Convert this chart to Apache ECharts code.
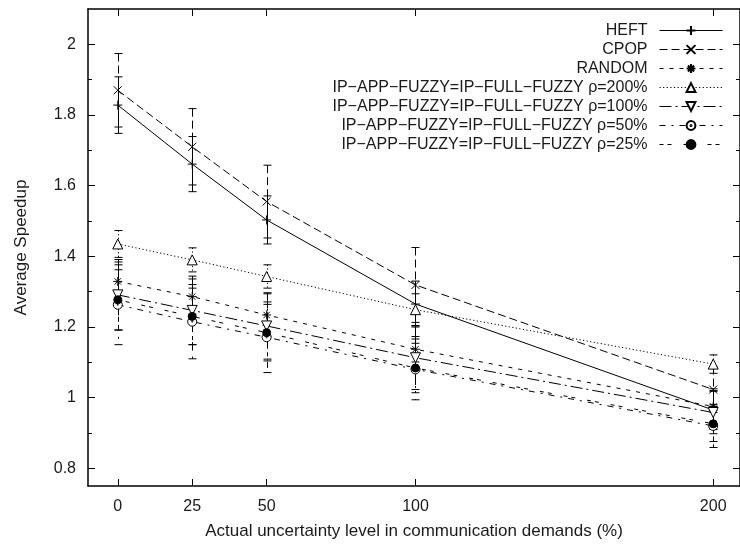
<!DOCTYPE html>
<html>
<head>
<meta charset="utf-8">
<script src="https://cdn.jsdelivr.net/npm/echarts@6/dist/echarts.min.js"></script>
<style>html,body{margin:0;padding:0;background:#fff;}#chart{width:740px;height:547px;}</style>
</head>
<body>
<div id="chart"></div>
<script>
// ---- data ----
const xValues = [0, 25, 50, 100, 200];
const xTickValues = [0, 25, 50, 100, 200];
const yLabelValues = [0.8, 1, 1.2, 1.4, 1.6, 1.8, 2];
const yMinorValues = [0.8, 0.9, 1, 1.1, 1.2, 1.3, 1.4, 1.5, 1.6, 1.7, 1.8, 1.9, 2];

const seriesNames = [
  'HEFT',
  'CPOP',
  'RANDOM',
  'IP\u2212APP\u2212FUZZY=IP\u2212FULL\u2212FUZZY \u03c1=200%',
  'IP\u2212APP\u2212FUZZY=IP\u2212FULL\u2212FUZZY \u03c1=100%',
  'IP\u2212APP\u2212FUZZY=IP\u2212FULL\u2212FUZZY \u03c1=50%',
  'IP\u2212APP\u2212FUZZY=IP\u2212FULL\u2212FUZZY \u03c1=25%'
];

const heft      = [1.828, 1.661, 1.503, 1.265, 0.965];
const heftErr   = [0.080, 0.078, 0.068, 0.065, 0.055];
const cpop      = [1.870, 1.710, 1.555, 1.319, 1.023];
const cpopErr   = [0.104, 0.108, 0.103, 0.106, 0.065];
const random    = [1.329, 1.286, 1.234, 1.137, 0.975];
const randomErr = [0.055, 0.050, 0.060, 0.036, 0.050];
const rho200    = [1.435, 1.390, 1.343, 1.249, 1.095];
const rho200Err = [0.038, 0.034, 0.033, 0.045, 0.026];
const rho100    = [1.291, 1.247, 1.203, 1.113, 0.958];
const rho100Err = [0.100, 0.097, 0.094, 0.090, 0.060];
const rho50     = [1.263, 1.215, 1.171, 1.080, 0.920];
const rho50Err  = [0.113, 0.105, 0.100, 0.086, 0.061];
const rho25     = [1.277, 1.230, 1.184, 1.084, 0.926];
const rho25Err  = [0.085, 0.080, 0.080, 0.070, 0.050];

// ---- styles ----
const FONT = '"Liberation Sans", Arial, Helvetica, sans-serif';
const TXT = '#1a1a1a';
const values = [heft, cpop, random, rho200, rho100, rho50, rho25];
const errors = [heftErr, cpopErr, randomErr, rho200Err, rho100Err, rho50Err, rho25Err];
const dashes = ['solid', [8, 4], [4, 6], [1.2, 2.4], [12, 4, 2, 4], [6, 6, 2, 6], [4, 4, 4, 12]];
const symbols = [
  'path://M0,5L10,5M5,0L5,10',
  'path://M0,0L10,10M10,0L0,10',
  'path://M0,5L10,5M5,0L5,10M1.5,1.5L8.5,8.5M8.5,1.5L1.5,8.5',
  'triangle',
  'triangle',
  'path://M0,5A5,5,0,1,1,10,5A5,5,0,1,1,0,5ZM4.4,5A0.6,0.6,0,1,1,5.6,5A0.6,0.6,0,1,1,4.4,5Z',
  'circle'
];
const symSizes = [9, 8, 9, 10, 10, 9, 8];
const symRot = [0, 0, 0, 0, 180, 0, 0];
const symFill = ['rgba(0,0,0,0)', 'rgba(0,0,0,0)', 'rgba(0,0,0,0)', '#fff', '#fff', '#fff', '#000'];

function errRender(dash) {
  return function (params, api) {
    const x = api.value(0), y = api.value(1), e = api.value(2);
    const hi = api.coord([x, y + e]);
    const lo = api.coord([x, y - e]);
    const px = Math.round(hi[0]) + 0.5;
    const w = 4;
    const cap = { stroke: '#000', lineWidth: 1 };
    return {
      type: 'group',
      children: [
        { type: 'line', shape: { x1: px, y1: hi[1], x2: px, y2: lo[1] },
          style: { stroke: '#000', lineWidth: 1, lineDash: dash === 'solid' ? null : dash } },
        { type: 'line', shape: { x1: px - w, y1: hi[1], x2: px + w, y2: hi[1] }, style: cap },
        { type: 'line', shape: { x1: px - w, y1: lo[1], x2: px + w, y2: lo[1] }, style: cap }
      ]
    };
  };
}

const series = [];
seriesNames.forEach(function (name, i) {
  series.push({
    type: 'custom',
    name: 'err' + i,
    renderItem: errRender(dashes[i]),
    encode: { x: 0, y: 1 },
    data: xValues.map(function (x, k) { return [x, values[i][k], errors[i][k]]; }),
    z: 1,
    silent: true
  });
});
seriesNames.forEach(function (name, i) {
  series.push({
    type: 'line',
    name: name,
    data: xValues.map(function (x, k) { return [x, values[i][k]]; }),
    symbol: symbols[i],
    symbolSize: symSizes[i],
    symbolRotate: symRot[i],
    showSymbol: true,
    lineStyle: { color: '#000', width: 1, type: dashes[i] },
    itemStyle: { color: symFill[i], borderColor: '#000', borderWidth: 1 },
    z: 3,
    emphasis: { disabled: true }
  });
});

const axisLine = { show: true, onZero: false, lineStyle: { color: '#000', width: 1.5 } };
const tickStyle = { color: '#000', width: 1 };

const option = {
  animation: false,
  backgroundColor: '#fff',
  grid: { left: 88, top: 9, width: 657, height: 477, containLabel: false },
  legend: {
    orient: 'vertical',
    right: 12,
    top: 16,
    align: 'right',
    itemWidth: 63,
    itemHeight: 11,
    itemGap: 0,
    selectedMode: false,
    data: seriesNames,
    lineStyle: { width: 1 },
    textStyle: { fontFamily: FONT, fontSize: 16, color: TXT, lineHeight: 19, padding: [0, 7, 0, 0] }
  },
  xAxis: [
    {
      type: 'value', position: 'bottom', min: -10, max: 209,
      axisLine: axisLine,
      axisTick: { show: true, inside: true, length: 7, customValues: xTickValues, lineStyle: tickStyle },
      axisLabel: { customValues: xTickValues, margin: 13, fontFamily: FONT, fontSize: 16, color: TXT },
      splitLine: { show: false },
      name: 'Actual uncertainty level in communication demands (%)',
      nameLocation: 'middle', nameGap: 37,
      nameTextStyle: { fontFamily: FONT, fontSize: 17, color: TXT }
    },
    {
      type: 'value', position: 'top', min: -10, max: 209,
      axisLine: axisLine,
      axisTick: { show: true, inside: true, length: 7, customValues: xTickValues, lineStyle: tickStyle },
      axisLabel: { show: false },
      splitLine: { show: false }
    }
  ],
  yAxis: [
    {
      type: 'value', position: 'left', min: 0.75, max: 2.1,
      axisLine: axisLine,
      axisTick: { show: true, inside: true, length: 7, customValues: yLabelValues, lineStyle: tickStyle },
      axisLabel: { customValues: yLabelValues, margin: 12, fontFamily: FONT, fontSize: 16, color: TXT },
      splitLine: { show: false },
      name: 'Average Speedup',
      nameLocation: 'middle', nameGap: 58, nameRotate: 90,
      nameTextStyle: { fontFamily: FONT, fontSize: 17, color: TXT }
    },
    {
      type: 'value', position: 'left', min: 0.75, max: 2.1,
      axisLine: { show: false, onZero: false },
      axisTick: { show: true, inside: true, length: 4, customValues: yMinorValues, lineStyle: tickStyle },
      axisLabel: { show: false },
      splitLine: { show: false }
    },
    {
      type: 'value', position: 'right', min: 0.75, max: 2.1,
      axisLine: axisLine,
      axisTick: { show: true, inside: true, length: 7, customValues: yLabelValues, lineStyle: tickStyle },
      axisLabel: { show: false },
      splitLine: { show: false }
    },
    {
      type: 'value', position: 'right', min: 0.75, max: 2.1,
      axisLine: { show: false, onZero: false },
      axisTick: { show: true, inside: true, length: 4, customValues: yMinorValues, lineStyle: tickStyle },
      axisLabel: { show: false },
      splitLine: { show: false }
    }
  ],
  series: series
};

const chart = echarts.init(document.getElementById('chart'), null, { renderer: 'canvas' });
chart.setOption(option);
</script>
</body>
</html>
